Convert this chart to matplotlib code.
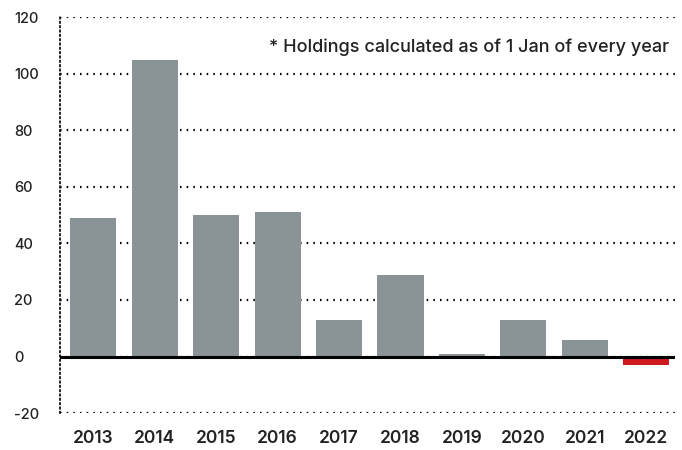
import matplotlib
matplotlib.use("Agg")
import matplotlib.pyplot as plt

years = ["2013", "2014", "2015", "2016", "2017", "2018", "2019", "2020", "2021", "2022"]
values = [49, 105, 50, 51, 13, 29, 1, 13, 6, -3]
y_ticks = [-20, 0, 20, 40, 60, 80, 100, 120]
note = "* Holdings calculated as of 1 Jan of every year"

plt.rcParams["font.family"] = ["Inter", "DejaVu Sans"]

fig = plt.figure(figsize=(6.82, 4.5), dpi=100)
ax = fig.add_axes([0.088, 0.082, 0.902, 0.880])

colors = ["#8a9396" if v >= 0 else "#d0191c" for v in values]
x = list(range(len(years)))
ax.bar(x, values, width=0.75, color=colors, zorder=2)
ax.axhline(0, color="black", lw=2.2, zorder=3)

ax.set_ylim(-20, 120)
ax.set_xlim(-0.54, 9.47)
ax.set_yticks(y_ticks)
ax.set_yticklabels([str(t) for t in y_ticks], fontsize=10.5, fontweight="medium",
                   color="#222222", ha="left")
ax.set_xticks(x)
ax.set_xticklabels(years, fontsize=12.5, fontweight="semibold", color="#222222")
ax.tick_params(length=0)
ax.tick_params(axis="y", pad=33)
ax.tick_params(axis="x", pad=12)

# dotted grid, a bit heavier than default
ax.grid(axis="y", color="black", linestyle=(0, (0.7, 2.3)), lw=1.6, zorder=0)
for s in ["top", "right", "bottom"]:
    ax.spines[s].set_visible(False)
ax.spines["left"].set_linestyle((0, (0.8, 1.8)))
ax.spines["left"].set_linewidth(1.2)

ax.text(0.99, 0.925, note, transform=ax.transAxes, ha="right", va="center",
        fontsize=13, fontweight="medium", color="#222222")

fig.savefig("out.png", dpi=100)
